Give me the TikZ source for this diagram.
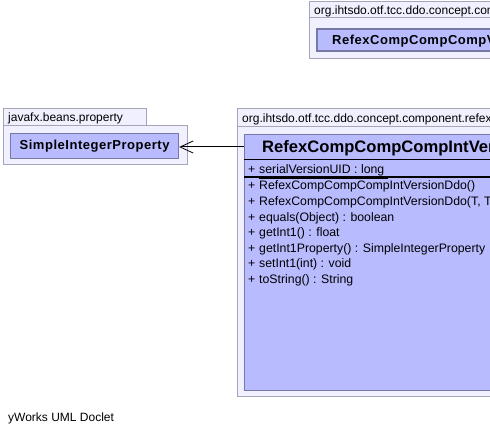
\documentclass[tikz,border=0pt]{standalone}
\usepackage{fontspec}
\setmainfont{Liberation Sans}
\usetikzlibrary{arrows.meta}
\definecolor{pkgfill}{RGB}{240,240,255}
\definecolor{pkgline}{RGB}{165,165,185}
\definecolor{clsfill}{RGB}{185,187,255}
\definecolor{clsline}{RGB}{120,120,165}
\tikzset{
  pkg/.style={draw=pkgline, fill=pkgfill, line width=1pt},
  cls/.style={draw=clsline, fill=clsfill, line width=1.2pt},
  lbl/.style={inner sep=0pt, anchor=base west, font=\fontsize{12}{14}\selectfont},
  mem/.style={inner sep=0pt, anchor=base west, font=\fontsize{12.3}{14}\selectfont},
}
\begin{document}
\begin{tikzpicture}[x=1pt,y=-1pt]
\clip (0,0) rectangle (490,435);
\useasboundingbox (0,0) rectangle (490,435);
% top-right package
\draw[pkg] (309,2) rectangle (520,18);
\draw[pkg] (309,18) rectangle (520,59);
\node[lbl] (p1lbl) at (314,15) {org.ihtsdo.otf.tcc.ddo.concept.component.refex};
\draw[cls] (317,29) rectangle (520,51);
\node[inner sep=0pt, anchor=base west, font=\bfseries\fontsize{13}{15}\selectfont] (c1) at (332,45) {\addfontfeature{LetterSpace=4}RefexCompCompCompVersionDdo};
% left package
\draw[pkg] (3,109) rectangle (146,126);
\draw[pkg] (3,126) rectangle (187,165);
\node[lbl] (p2lbl) at (8,122) {javafx.beans.property};
\node[cls, minimum width=168pt, minimum height=25pt, inner sep=0pt, anchor=north west,
      font=\bfseries\fontsize{13}{15}\selectfont] (sip) at (10,133) {\addfontfeature{LetterSpace=4}SimpleIntegerProperty};
% right package
\draw[pkg] (237,109) rectangle (520,127);
\draw[pkg] (237,127) rectangle (520,397);
\node[lbl] (p3lbl) at (242,123) {org.ihtsdo.otf.tcc.ddo.concept.component.refex};
\node[cls, minimum width=300pt, minimum height=256pt, inner sep=0pt, anchor=north west] (main) at (244,134) {};
\node[inner sep=0pt, anchor=base west, font=\bfseries\fontsize{16.6}{20}\selectfont] (title) at (262,153) {RefexCompCompCompIntVersionDdo};
\draw[line width=1pt] (244,160) -- (520,160);
\draw[line width=2pt] (244,177) -- (520,177);
\node[mem] at (248,174) {+};
\node[mem] at (259,174) {\underline{serialVersionUID : long\ }};
\foreach \i/\t in {0/{RefexCompCompCompIntVersionDdo()},
                   1/{RefexCompCompCompIntVersionDdo(T, TerminologyStoreDI)},
                   2/{equals(Object) : boolean},
                   3/{getInt1() : float},
                   4/{getInt1Property() : SimpleIntegerProperty},
                   5/{setInt1(int) : void},
                   6/{toString() : String}} {
  \node[mem] at (248,{190+15.6*\i}) {+};
  \node[mem] at (259,{190+15.6*\i}) {\t};
}
% association arrow
\draw[line width=1pt, -{Straight Barb[length=13pt,width=12pt,line width=0.8pt]}] (main.west |- 0,147) -- (sip.east |- 0,147);
% footer
\node[lbl] (foot) at (8,421) {yWorks UML Doclet};
\end{tikzpicture}
\end{document}
